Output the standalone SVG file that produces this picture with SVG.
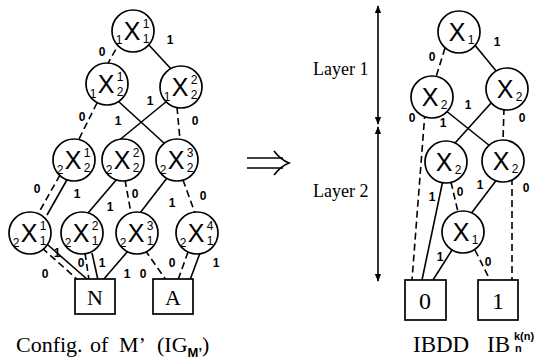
<svg xmlns="http://www.w3.org/2000/svg" width="541" height="360" viewBox="0 0 541 360">
<defs>
<style>
.e{stroke:#000;stroke-width:1.6;fill:none}
.d{stroke:#000;stroke-width:1.6;fill:none;stroke-dasharray:7,4}
.n{fill:#fff;stroke:#000;stroke-width:1.7}
.x{font-family:"Liberation Sans",Arial,sans-serif;font-size:25px;text-anchor:middle}
.s{font-family:"Liberation Sans",Arial,sans-serif;font-size:12px;text-anchor:middle}
.l{font-family:"Liberation Sans",Arial,sans-serif;font-size:12px;font-weight:bold;text-anchor:middle}
.t{font-family:"Liberation Serif","Times New Roman",serif}
</style>
<marker id="ah" viewBox="0 0 10 10" refX="9" refY="5" markerWidth="8" markerHeight="8" markerUnits="userSpaceOnUse" orient="auto-start-reverse">
<path d="M0,1 L10,5 L0,9 Z" fill="#000"/>
</marker>
</defs>
<rect width="541" height="360" fill="#fff"/>

<g id="connectors">
<line class="d" x1="121" y1="40" x2="106" y2="67"/>
<line class="e" x1="148" y1="44" x2="172" y2="70"/>
<line class="d" x1="97" y1="103" x2="78" y2="141"/>
<line class="e" x1="118" y1="101" x2="165" y2="144"/>
<line class="e" x1="167" y1="101" x2="117" y2="142"/>
<line class="d" x1="177" y1="107" x2="180" y2="140"/>
<line class="d" x1="60" y1="175" x2="38" y2="214"/>
<line class="e" x1="68" y1="178" x2="47" y2="215"/>
<line class="e" x1="117" y1="179" x2="88" y2="213"/>
<line class="d" x1="125" y1="180" x2="131" y2="213"/>
<line class="e" x1="167" y1="178" x2="140" y2="213"/>
<line class="d" x1="183" y1="180" x2="195" y2="213"/>
<line class="d" x1="42" y1="248" x2="78" y2="280"/>
<line class="e" x1="48" y1="245" x2="88" y2="280"/>
<line class="d" x1="85" y1="253" x2="89" y2="280"/>
<line class="e" x1="92" y1="253" x2="98" y2="280"/>
<line class="e" x1="128" y1="251" x2="103" y2="280"/>
<line class="d" x1="145" y1="250" x2="166" y2="280"/>
<line class="d" x1="188" y1="252" x2="178" y2="280"/>
<line class="e" x1="200" y1="253" x2="190" y2="280"/>
<line class="d" x1="445" y1="48" x2="436" y2="77"/>
<line class="e" x1="474" y1="44" x2="497" y2="72"/>
<line class="d" x1="425" y1="112" x2="412" y2="280"/>
<line class="e" x1="445" y1="110" x2="490" y2="146"/>
<line class="e" x1="492" y1="102" x2="455" y2="143"/>
<line class="d" x1="504" y1="108" x2="503" y2="141"/>
<line class="e" x1="443" y1="180" x2="422" y2="280"/>
<line class="d" x1="451" y1="182" x2="458" y2="212"/>
<line class="e" x1="498" y1="178" x2="470" y2="215"/>
<line class="d" x1="512" y1="178" x2="512" y2="280"/>
<line class="e" x1="452" y1="250" x2="433" y2="280"/>
<line class="d" x1="475" y1="250" x2="490" y2="280"/>
</g>

<g id="edge-labels">
<text class="l" x="102" y="56">0</text>
<text class="l" x="170" y="44">1</text>
<text class="l" x="82" y="121">0</text>
<text class="l" x="118" y="125">1</text>
<text class="l" x="150" y="105">1</text>
<text class="l" x="195" y="125">0</text>
<text class="l" x="37" y="193">0</text>
<text class="l" x="77" y="198">1</text>
<text class="l" x="110" y="211">1</text>
<text class="l" x="135" y="198">0</text>
<text class="l" x="172" y="207">1</text>
<text class="l" x="203" y="200">0</text>
<text class="l" x="45" y="278">0</text>
<text class="l" x="57" y="257">1</text>
<text class="l" x="81" y="267">0</text>
<text class="l" x="102" y="267">1</text>
<text class="l" x="127" y="278">1</text>
<text class="l" x="143" y="278">0</text>
<text class="l" x="172" y="267">0</text>
<text class="l" x="216" y="267">1</text>
<text class="l" x="432" y="61">0</text>
<text class="l" x="497" y="46">1</text>
<text class="l" x="412" y="122">0</text>
<text class="l" x="443" y="127">1</text>
<text class="l" x="468" y="109">1</text>
<text class="l" x="522" y="122">0</text>
<text class="l" x="432" y="201">1</text>
<text class="l" x="460" y="196">0</text>
<text class="l" x="480" y="189">1</text>
<text class="l" x="526" y="192">0</text>
<text class="l" x="440" y="261">1</text>
<text class="l" x="488" y="266">0</text>
</g>

<g id="L-root"><circle class="n" cx="133" cy="31" r="21"/><text class="s" x="119" y="44">1</text><text class="x" x="132" y="40">X</text><text class="s" x="146" y="28">1</text><text class="s" x="146" y="43">1</text></g>
<g id="L-x21a"><circle class="n" cx="107" cy="84" r="21"/><text class="s" x="93" y="98">1</text><text class="x" x="106" y="93">X</text><text class="s" x="120" y="81">1</text><text class="s" x="120" y="96">2</text></g>
<g id="L-x22a"><circle class="n" cx="181" cy="87" r="21"/><text class="s" x="167" y="101">1</text><text class="x" x="180" y="96">X</text><text class="s" x="194" y="84">2</text><text class="s" x="194" y="99">2</text></g>
<g id="L-x21b"><circle class="n" cx="74" cy="160" r="21"/><text class="s" x="60" y="174">2</text><text class="x" x="73" y="169">X</text><text class="s" x="87" y="157">1</text><text class="s" x="87" y="172">2</text></g>
<g id="L-x22b"><circle class="n" cx="123" cy="160" r="21"/><text class="s" x="109" y="174">2</text><text class="x" x="122" y="169">X</text><text class="s" x="136" y="157">2</text><text class="s" x="136" y="172">2</text></g>
<g id="L-x23b"><circle class="n" cx="177" cy="160" r="21"/><text class="s" x="163" y="174">2</text><text class="x" x="176" y="169">X</text><text class="s" x="190" y="157">3</text><text class="s" x="190" y="172">2</text></g>
<g id="L-x11"><circle class="n" cx="30" cy="233" r="21"/><text class="s" x="16" y="247">2</text><text class="x" x="29" y="242">X</text><text class="s" x="43" y="230">1</text><text class="s" x="43" y="245">1</text></g>
<g id="L-x12"><circle class="n" cx="82" cy="233" r="21"/><text class="s" x="68" y="247">2</text><text class="x" x="81" y="242">X</text><text class="s" x="95" y="230">2</text><text class="s" x="95" y="245">1</text></g>
<g id="L-x13"><circle class="n" cx="137" cy="233" r="21"/><text class="s" x="123" y="247">2</text><text class="x" x="136" y="242">X</text><text class="s" x="150" y="230">3</text><text class="s" x="150" y="245">1</text></g>
<g id="L-x14"><circle class="n" cx="197" cy="233" r="21"/><text class="s" x="183" y="247">2</text><text class="x" x="196" y="242">X</text><text class="s" x="210" y="230">4</text><text class="s" x="210" y="245">1</text></g>
<g id="L-N"><rect class="n" x="75" y="279" width="40" height="35"/><text class="t" x="95" y="305" font-size="22" text-anchor="middle">N</text></g>
<g id="L-A"><rect class="n" x="153" y="279" width="40" height="35"/><text class="t" x="173" y="305" font-size="22" text-anchor="middle">A</text></g>

<g id="R-x1"><circle class="n" cx="459" cy="32" r="21"/><text class="x" x="457" y="41">X</text><text class="s" x="471" y="44">1</text></g>
<g id="R-x2a"><circle class="n" cx="432" cy="97" r="21"/><text class="x" x="430" y="106">X</text><text class="s" x="444" y="109">2</text></g>
<g id="R-x2b"><circle class="n" cx="507" cy="89" r="21"/><text class="x" x="505" y="98">X</text><text class="s" x="519" y="101">2</text></g>
<g id="R-x2c"><circle class="n" cx="446" cy="162" r="21"/><text class="x" x="444" y="171">X</text><text class="s" x="458" y="174">2</text></g>
<g id="R-x2d"><circle class="n" cx="503" cy="161" r="21"/><text class="x" x="501" y="170">X</text><text class="s" x="515" y="173">2</text></g>
<g id="R-x1b"><circle class="n" cx="463" cy="232" r="21"/><text class="x" x="461" y="241">X</text><text class="s" x="475" y="244">1</text></g>
<g id="R-0"><rect class="n" x="405" y="280" width="41" height="40"/><text class="t" x="425" y="309" font-size="24" text-anchor="middle">0</text></g>
<g id="R-1"><rect class="n" x="478" y="280" width="40" height="40"/><text class="t" x="498" y="309" font-size="24" text-anchor="middle">1</text></g>

<g id="implies" stroke="#000" stroke-width="1.6" fill="none">
<line x1="247" y1="158" x2="283" y2="158"/>
<line x1="247" y1="168" x2="283" y2="168"/>
<path d="M274,151 Q281,160 289,163 Q281,166 274,175"/>
</g>

<g id="layers">
<line x1="378" y1="6" x2="378" y2="124" stroke="#000" stroke-width="1.6" marker-start="url(#ah)" marker-end="url(#ah)"/>
<line x1="378" y1="127" x2="378" y2="281" stroke="#000" stroke-width="1.6" marker-start="url(#ah)" marker-end="url(#ah)"/>
<text class="t" x="313" y="75" font-size="18">Layer 1</text>
<text class="t" x="313" y="197" font-size="18">Layer 2</text>
</g>

<g id="captions" class="t">
<text x="16" y="352" font-size="22">Config.<tspan x="90">of</tspan><tspan x="119">M’</tspan><tspan x="157">(IG</tspan><tspan font-size="13" dy="5" font-family="Liberation Sans,sans-serif" font-weight="bold">M’</tspan><tspan dy="-5">)</tspan></text>
<text x="413" y="352" font-size="23">IBDD<tspan x="487">IB</tspan></text>
<text x="514" y="340" font-family="Liberation Sans,sans-serif" font-size="11" font-weight="bold">k(n)</text>
<text x="515" y="352" font-family="Liberation Sans,sans-serif" font-size="11" font-weight="bold">n</text>
</g>
</svg>
